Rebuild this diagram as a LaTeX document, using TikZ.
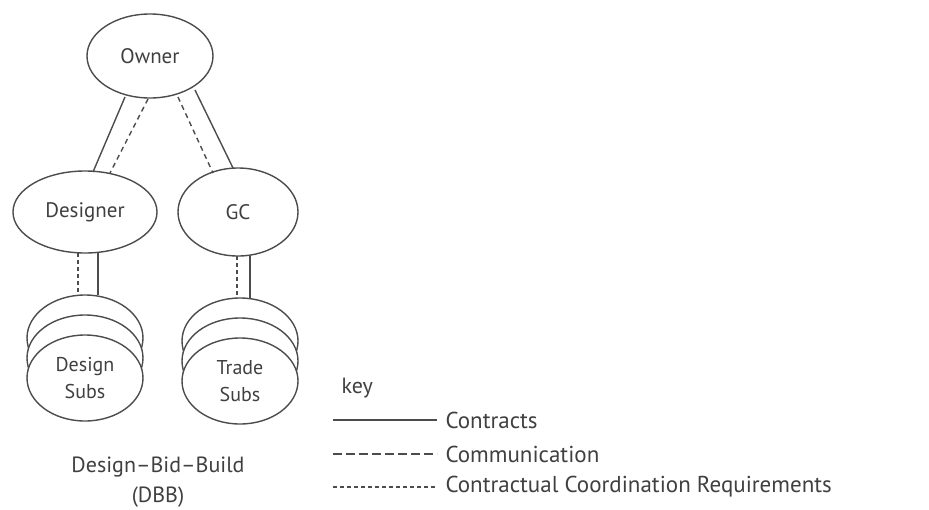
\documentclass[tikz,border=0pt]{standalone}
\usepackage{fontspec}
\setmainfont{PT Sans}
\begin{document}
\begin{tikzpicture}[x=1pt,y=-1pt,
  lc/.style={draw=black!70, line width=1.4pt},
  party/.style={lc, fill=white},
  txt/.style={text=black!75, font=\fontsize{21}{23}\selectfont, align=center},
  contract/.style={lc},
  comm/.style={lc, dash pattern=on 5pt off 4pt},
  coord/.style={lc, line width=1.2pt, dash pattern=on 3.5pt off 3.5pt}]
\useasboundingbox (0,0) rectangle (929,509);
\fill[white] (0,0) rectangle (929,509);

% top level parties
\draw[party] (150,56) ellipse [x radius=63, y radius=42];
\node[txt] (owner) at (150,56) {Owner};
\draw[party] (85,212) ellipse [x radius=72, y radius=41];
\node[txt] (designer) at (85,212) {Designer};
\draw[party] (238,212) ellipse [x radius=60, y radius=44];
\node[txt] (gc) at (238,212) {GC};

% links from the owner
\coordinate (o1) at (125,97);  \coordinate (d1) at (93,172);
\coordinate (o2) at (148,99);  \coordinate (d2) at (110,173);
\coordinate (o3) at (178,97);  \coordinate (g3) at (213,173);
\coordinate (o4) at (195,90);  \coordinate (g4) at (233,168);
\draw[contract] (o1) -- (d1);
\draw[comm] (o2) -- (d2);
\draw[comm] (o3) -- (g3);
\draw[contract] (o4) -- (g4);

% stacked sub groups
\foreach \cx/\cy/\nm/\lab in {85/378/dsubs/{Design\\Subs}, 240/381/tsubs/{Trade\\Subs}}{
  \draw[party] (\cx,\cy-40) ellipse [x radius=58, y radius=43];
  \draw[party] (\cx,\cy-20) ellipse [x radius=58, y radius=43];
  \draw[party] (\cx,\cy) ellipse [x radius=58, y radius=43];
  \node[txt, font=\fontsize{20}{27}\selectfont] (\nm) at (\cx,\cy) {\lab};
}

% links down to the subs
\coordinate (da) at (78,253);  \coordinate (sa) at (78,295);
\coordinate (db) at (98,253);  \coordinate (sb) at (98,295);
\coordinate (ga) at (237,256); \coordinate (ta) at (237,298);
\coordinate (gb) at (250,256); \coordinate (tb) at (250,298);
\draw[coord] (da) -- (sa);
\draw[contract] (db) -- (sb);
\draw[coord] (ga) -- (ta);
\draw[contract] (gb) -- (tb);

% caption
\node[txt, font=\fontsize{22}{30}\selectfont] (cap) at (158,482) {Design–Bid–Build\\(DBB)};

% key
\node[txt, font=\fontsize{22}{24}\selectfont, anchor=west] (key) at (338,388) {key};
\coordinate (k1a) at (333,420); \coordinate (k1b) at (437,420);
\coordinate (k2a) at (333,454); \coordinate (k2b) at (437,454);
\coordinate (k3a) at (333,487); \coordinate (k3b) at (437,487);
\draw[contract] (k1a) -- (k1b);
\draw[comm, line width=1.7pt, dash pattern=on 9pt off 4pt] (k2a) -- (k2b);
\draw[coord] (k3a) -- (k3b);
\node[txt, font=\fontsize{23}{25}\selectfont, anchor=west] (kc1) at (442,420) {Contracts};
\node[txt, font=\fontsize{23}{25}\selectfont, anchor=west] (kc2) at (442,454) {Communication};
\node[txt, font=\fontsize{23}{25}\selectfont, anchor=west] (kc3) at (442,487) {Contractual Coordination Requirements};
\end{tikzpicture}
\end{document}
